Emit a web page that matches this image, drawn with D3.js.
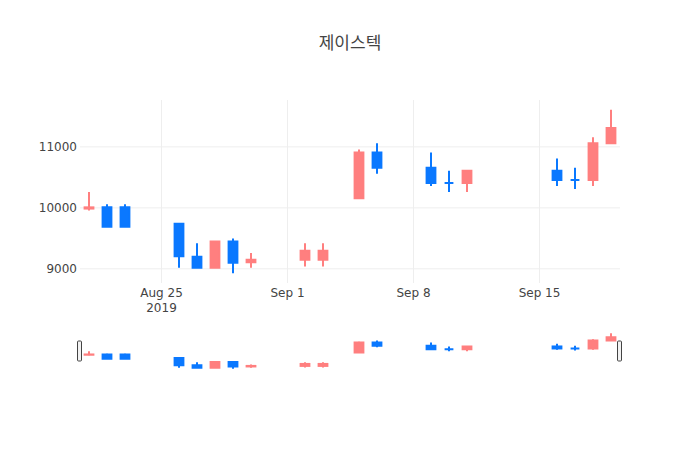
<!DOCTYPE html>
<html>
<head>
<meta charset="utf-8">
<script src="https://cdn.jsdelivr.net/npm/d3@7"></script>
<style>
    body { margin: 0; background: #fff; }
    text { font-family: "DejaVu Sans", "Noto Sans CJK KR", sans-serif; fill: #444; }
</style>
</head>
<body>
<div class="chart"></div>
<script>
let title = "제이스텍";
let dates = ["2019-08-21", "2019-08-22", "2019-08-23", "2019-08-26", "2019-08-27", "2019-08-28",
             "2019-08-29", "2019-08-30", "2019-09-02", "2019-09-03", "2019-09-05", "2019-09-06",
             "2019-09-09", "2019-09-10", "2019-09-11", "2019-09-16", "2019-09-17", "2019-09-18",
             "2019-09-19"];
let opens  = [9980, 10000, 10000, 9730, 9190, 9010, 9440, 9100, 9140, 9140, 10150, 10900,
              10650, 10400, 10400, 10600, 10450, 10450, 11050];
let highs  = [10250, 10050, 10050, 9730, 9410, 9440, 9490, 9250, 9410, 9410, 10950, 11050,
              10900, 10600, 10600, 10800, 10650, 11150, 11600];
let lows   = [9950, 9680, 9680, 9010, 9010, 9010, 8920, 9010, 9030, 9030, 10150, 10550,
              10350, 10250, 10250, 10350, 10300, 10350, 11050];
let closes = [10000, 9680, 9680, 9200, 9010, 9440, 9090, 9140, 9290, 9290, 10900, 10650,
              10400, 10400, 10600, 10450, 10450, 11050, 11300];
let yTicks = [9000, 10000, 11000];

let config = {
    width: 700,
    height: 450,
    left: 80,
    right: 620,
    top: 100,
    bottom: 283,
    sliderTop: 331,
    sliderBottom: 371,
    upColor: "#ff7f7f",
    downColor: "#0a78ff",
    gridColor: "#eee"
};

let parseDate = d3.timeParse("%Y-%m-%d");
let candles = dates.map(function (d, i) {
    return { date: parseDate(d), open: opens[i], high: highs[i], low: lows[i], close: closes[i] };
});
// same rule as plotly: equal open/close takes its direction from the previous close
candles.forEach(function (c, i) {
    if (c.close > c.open) c.up = true;
    else if (c.close < c.open) c.up = false;
    else c.up = i > 0 ? c.close > candles[i - 1].close : true;
});

let first = candles[0].date;
let last = candles[candles.length - 1].date;
let x = d3.scaleTime()
    .domain([d3.timeHour.offset(first, -12), d3.timeHour.offset(last, 12)])
    .range([config.left, config.right]);

let lo = d3.min(lows), hi = d3.max(highs);
let pad = (hi - lo) * 0.06;
let y = d3.scaleLinear().domain([lo - pad, hi + pad]).range([config.bottom, config.top]);
let ySlider = d3.scaleLinear().domain(y.domain()).range([config.sliderBottom, config.sliderTop]);

let dayWidth = x(d3.timeDay.offset(first, 1)) - x(first);
let boxWidth = dayWidth * 0.6;

let svg = d3.select(".chart").append("svg")
    .attr("width", config.width)
    .attr("height", config.height);

svg.append("text")
    .attr("x", config.width / 2)
    .attr("y", 49)
    .attr("text-anchor", "middle")
    .style("font-size", "17px")
    .text(title);

// y axis with grid
let yAxis = svg.append("g")
    .attr("transform", "translate(" + config.left + ",0)")
    .call(d3.axisLeft(y).tickValues(yTicks).tickFormat(d3.format("d"))
        .tickSize(-(config.right - config.left)).tickPadding(3));
yAxis.select(".domain").remove();
yAxis.selectAll("line").attr("stroke", config.gridColor);
yAxis.selectAll("text").attr("font-size", 12).attr("dy", "0.36em");

// x axis with grid, year under the first tick
let xAxis = svg.append("g")
    .attr("transform", "translate(0," + config.bottom + ")")
    .call(d3.axisBottom(x).ticks(d3.timeWeek.every(1)).tickFormat(d3.timeFormat("%b %-d"))
        .tickSize(-(config.bottom - config.top)).tickPadding(5));
xAxis.select(".domain").remove();
xAxis.selectAll("line").attr("stroke", config.gridColor);
xAxis.selectAll("text").attr("font-size", 12)
    .each(function (d, i) {
        if (i === 0) {
            d3.select(this).append("tspan")
                .attr("x", 0)
                .attr("dy", "1.3em")
                .text(d3.timeFormat("%Y")(d));
        }
    });

function bodyPath(d, yScale) {
    let x0 = x(d.date) - boxWidth / 2 + 1;
    let x1 = x(d.date) + boxWidth / 2 - 1;
    let y0 = yScale(Math.max(d.open, d.close));
    let y1 = yScale(Math.min(d.open, d.close));
    return "M" + x0 + "," + y0 + "H" + x1 + "V" + y1 + "H" + x0 + "Z";
}

function drawCandles(group, yScale) {
    let candle = group.selectAll(".candle").data(candles).enter()
        .append("g").attr("class", "candle");
    candle.append("line")
        .attr("x1", function (d) { return x(d.date); })
        .attr("x2", function (d) { return x(d.date); })
        .attr("y1", function (d) { return yScale(d.high); })
        .attr("y2", function (d) { return yScale(d.low); })
        .attr("stroke", function (d) { return d.up ? config.upColor : config.downColor; })
        .attr("stroke-width", 2);
    candle.append("path")
        .attr("d", function (d) { return bodyPath(d, yScale); })
        .attr("fill", function (d) { return d.up ? config.upColor : config.downColor; })
        .attr("stroke", function (d) { return d.up ? config.upColor : config.downColor; })
        .attr("stroke-width", 2);
}

drawCandles(svg.append("g").attr("class", "main"), y);

// range slider
let slider = svg.append("g").attr("class", "slider");
slider.append("rect")
    .attr("x", config.left)
    .attr("y", config.sliderTop)
    .attr("width", config.right - config.left)
    .attr("height", config.sliderBottom - config.sliderTop)
    .attr("fill", "#fff");
drawCandles(slider, ySlider);

let handleH = 20;
[config.left, config.right].forEach(function (hx) {
    slider.append("rect")
        .attr("x", hx - 2.5)
        .attr("y", (config.sliderTop + config.sliderBottom - handleH) / 2)
        .attr("width", 4)
        .attr("height", handleH)
        .attr("rx", 1)
        .attr("fill", "#f2f2f2")
        .attr("stroke", "#444")
        .attr("stroke-width", 1);
});
</script>
</body>
</html>
